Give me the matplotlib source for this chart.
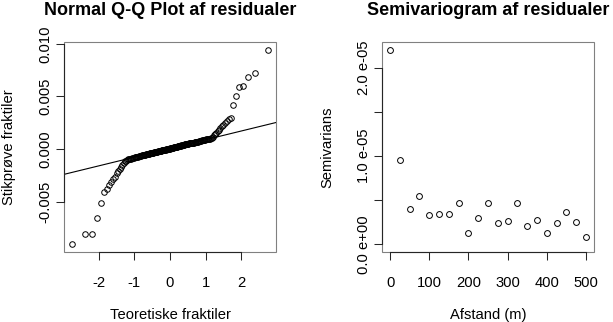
import matplotlib
matplotlib.use("Agg")
import matplotlib.pyplot as plt
import numpy as np
from statistics import NormalDist
from matplotlib.patches import Rectangle

# Sorted model residuals (units of 1e-3)
residuals_e3 = [
    -9.06, -8.09, -8.07, -6.56, -5.18, -4.06, -3.78, -3.45, -3.18, -2.90,
    -2.62, -2.33, -2.12, -1.90, -1.70, -1.50, -1.32, -1.18, -1.10, -1.05,
    -0.985, -0.96, -0.93, -0.905, -0.875, -0.85, -0.82, -0.80, -0.78, -0.755,
    -0.735, -0.715, -0.69, -0.67, -0.65, -0.63, -0.61, -0.595, -0.575, -0.56,
    -0.545, -0.525, -0.51, -0.495, -0.48, -0.47, -0.455, -0.44, -0.42, -0.41,
    -0.39, -0.375, -0.36, -0.35, -0.34, -0.325, -0.31, -0.295, -0.28, -0.265,
    -0.255, -0.245, -0.235, -0.22, -0.205, -0.19, -0.175, -0.16, -0.15, -0.14,
    -0.13, -0.12, -0.105, -0.09, -0.075, -0.06, -0.05, -0.04, -0.03, -0.015,
    -0.005, 0.005, 0.02, 0.035, 0.045, 0.06, 0.07, 0.085, 0.095, 0.11,
    0.12, 0.13, 0.145, 0.16, 0.17, 0.185, 0.20, 0.215, 0.225, 0.24,
    0.255, 0.265, 0.28, 0.295, 0.31, 0.325, 0.34, 0.355, 0.37, 0.385,
    0.40, 0.415, 0.43, 0.445, 0.46, 0.475, 0.49, 0.50, 0.515, 0.53,
    0.545, 0.555, 0.565, 0.575, 0.585, 0.595, 0.605, 0.615, 0.625, 0.64,
    0.655, 0.67, 0.69, 0.71, 0.73, 0.75, 0.77, 0.79, 0.81, 0.83,
    0.85, 0.87, 0.89, 0.91, 0.93, 0.95, 0.97, 0.99, 1.02, 1.06,
    1.16, 1.31, 1.44, 1.56, 1.70, 1.85, 2.04, 2.20, 2.32, 2.48,
    2.66, 2.82, 2.95, 4.16, 5.04, 5.91, 6.02, 6.86, 7.26, 9.44,
]

# Empirical semivariogram of the residuals
lag_m = [0, 25, 50, 75, 100, 125, 150, 175, 200, 225, 250,
         275, 300, 325, 350, 375, 400, 425, 450, 475, 500]
semivariance_e5 = [2.206, 0.953, 0.405, 0.548, 0.330, 0.341, 0.341, 0.473,
                   0.128, 0.300, 0.473, 0.236, 0.259, 0.462, 0.203, 0.278,
                   0.128, 0.236, 0.360, 0.248, 0.083]

qq_xticks = [-2, -1, 0, 1, 2]
qq_xticklabels = ["-2", "-1", "0", "1", "2"]
qq_yticks = [-0.005, 0.0, 0.005, 0.010]
qq_yticklabels = ["-0.005", "0.000", "0.005", "0.010"]
sv_xticks = [0, 100, 200, 300, 400, 500]
sv_xticklabels = ["0", "100", "200", "300", "400", "500"]
sv_yticks = [0.0, 0.5e-5, 1.0e-5, 1.5e-5, 2.0e-5]
sv_yticklabels = ["0.0 e+00", "", "1.0 e-05", "", "2.0 e-05"]

plt.rcParams["font.family"] = ["Liberation Sans", "DejaVu Sans"]
FS = 10.6
TFS = 13.0
BOX = "#808080"
AXC = "#262626"

W, H = 613, 322
fig = plt.figure(figsize=(W / 100, H / 100), dpi=100)
fig.patch.set_facecolor("white")

def px_axes(left, top, right, bottom):
    return fig.add_axes([left / W, 1 - bottom / H, (right - left) / W, (bottom - top) / H])

def r_extend(lo, hi, frac=0.04):
    d = (hi - lo) * frac
    return lo - d, hi + d

def r_style(ax, xt, xtl, yt, ytl):
    for s in ax.spines.values():
        s.set_visible(False)
    ax.add_patch(Rectangle((0, 0), 1, 1, transform=ax.transAxes, fill=False,
                           ec=BOX, lw=0.8, clip_on=False, zorder=3))
    for side, tk in (("bottom", xt), ("left", yt)):
        sp = ax.spines[side]
        sp.set_visible(True)
        sp.set_bounds(tk[0], tk[-1])
        sp.set_color(AXC)
        sp.set_linewidth(0.8)
        sp.set_zorder(4)
    ax.set_xticks(xt)
    ax.set_xticklabels(xtl)
    ax.set_yticks(yt)
    ax.set_yticklabels(ytl, rotation=90, va="center", ha="right")
    ax.tick_params(direction="out", length=5.8, width=0.75, colors=AXC,
                   labelcolor="black", labelsize=FS)
    ax.tick_params(axis="x", pad=11.5)
    ax.tick_params(axis="y", pad=2.5)

# ---- Normal Q-Q plot ----
ax1 = px_axes(64, 42, 276, 252)
y = np.array(residuals_e3) * 1e-3
n = len(y)
nd = NormalDist()
probs = (np.arange(1, n + 1) - 0.5) / n
theo = np.array([nd.inv_cdf(p) for p in probs])
ax1.plot(theo, np.sort(y), ls="none", marker="o", ms=4.0, mfc="none",
         mec="black", mew=0.7, zorder=5)
q1, q3 = np.quantile(y, [0.25, 0.75])
z1, z3 = nd.inv_cdf(0.25), nd.inv_cdf(0.75)
slope = (q3 - q1) / (z3 - z1)
intercept = q1 - slope * z1
ax1.axline((0, intercept), slope=slope, color="black", lw=0.8, zorder=4)
ax1.set_xlim(*r_extend(theo.min(), theo.max()))
ax1.set_ylim(*r_extend(y.min(), y.max()))
r_style(ax1, qq_xticks, qq_xticklabels, qq_yticks, qq_yticklabels)
ax1.set_title("Normal Q-Q Plot af residualer", fontsize=TFS, fontweight="bold", pad=19.5)
ax1.set_xlabel("Teoretiske fraktiler", fontsize=FS, va="baseline")
ax1.xaxis.set_label_coords(0.5, -67 / 210)
ax1.set_ylabel("Stikprøve fraktiler", fontsize=FS, va="baseline")
ax1.yaxis.set_label_coords(-50.5 / 212, 0.5)

# ---- Semivariogram ----
ax2 = px_axes(382.3, 42, 593.7, 252)
gam = np.array(semivariance_e5) * 1e-5
ax2.plot(lag_m, gam, ls="none", marker="o", ms=4.2, mfc="none",
         mec="black", mew=0.7, zorder=5)
ax2.set_xlim(*r_extend(min(lag_m), max(lag_m)))
ax2.set_ylim(*r_extend(0.0, gam.max()))
r_style(ax2, sv_xticks, sv_xticklabels, sv_yticks, sv_yticklabels)
ax2.set_title("Semivariogram af residualer", fontsize=TFS, fontweight="bold", pad=19.5)
ax2.set_xlabel("Afstand (m)", fontsize=FS, va="baseline")
ax2.xaxis.set_label_coords(0.5, -67 / 210)
ax2.set_ylabel("Semivarians", fontsize=FS, va="baseline")
ax2.yaxis.set_label_coords(-51.3 / 211.4, 0.5)

fig.savefig("out.png", dpi=100)
